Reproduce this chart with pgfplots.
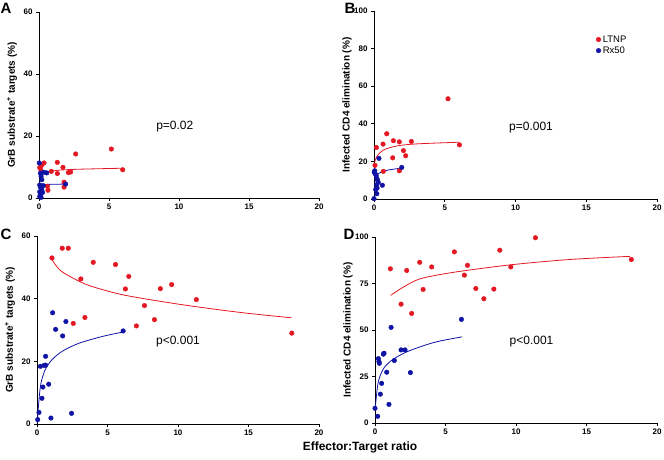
\documentclass[border=0pt]{standalone}
\usepackage{pgfplots}
\pgfplotsset{compat=1.18}
\usepackage{fontspec}
\setmainfont{Liberation Sans}
\definecolor{ltnp}{RGB}{228,24,34}
\definecolor{rx}{RGB}{16,20,165}
\pgfplotsset{
  gp/.style={
    scale only axis,
    anchor=south west,
    axis x line*=bottom,
    axis y line*=left,
    axis line style={-, line width=0.9pt},
    tick style={line width=0.8pt, black},
    tick align=outside,
    major tick length=3pt,
    xmin=0, xmax=20, xtick={0,5,10,15,20},
    enlargelimits=false,
    clip=false,
    /pgf/number format/assume math mode=true,
    ticklabel style={font=\fontsize{8}{9}\selectfont\bfseries},
    xticklabel style={yshift=1pt},
    ylabel style={at={([xshift=-27pt]axis description cs:0,0.5)}, anchor=center, font=\fontsize{10}{12}\selectfont\bfseries},
  },
  ptsr/.style={only marks, mark=*, mark size=2.3pt, color=ltnp},
  ptsb/.style={only marks, mark=*, mark size=2.3pt, color=rx},
  fitr/.style={no marks, smooth, line width=0.8pt, color=ltnp},
  fitb/.style={no marks, smooth, line width=0.8pt, color=rx},
}
\begin{document}
\begin{tikzpicture}
\useasboundingbox (0,0) rectangle (664pt,460pt);
% ---------------- A
\begin{axis}[gp, at={(39pt,262pt)}, width=280pt, height=186pt,
  ymin=0, ymax=60, ytick={0,20,40,60},
  ylabel={GrB substrate\textsuperscript{+} targets (\%)}]
\addplot[ptsr] coordinates {(5.17,15.8)(2.62,14.2)(1.31,11.5)(0.36,11.3)(1.71,9.9)(0.88,8.6)(1.31,7.9)(2.10,8.2)(2.26,8.4)(5.98,9.1)(0.12,9.3)(0.18,10.5)(0.05,9.8)(0.60,3.8)(0.64,2.5)(1.79,5.1)(1.79,3.5)};
\addplot[ptsb] coordinates {(0.02,11.3)(0.1,8.0)(0.35,8.3)(0.55,8.1)(0.15,7.0)(0.2,5.9)(0.05,4.2)(0.1,3.5)(0.2,2.8)(0.25,1.8)(0.1,1.2)(0.05,0.5)(0.15,0.2)(1.9,4.5)(0.3,4.0)(0.05,2.0)};
\addplot[fitr] coordinates {(0.05,7.0)(0.2,8.0)(0.6,8.5)(1.5,9.0)(3,9.3)(5.95,9.6)};
\addplot[fitb] coordinates {(0.05,4.0)(0.2,4.3)(0.8,4.4)(1.9,4.5)};
\node[font=\fontsize{12}{14}\selectfont] at (axis cs:9.7,23) {p=0.02};
\end{axis}
% ---------------- B
\begin{axis}[gp, at={(374pt,261pt)}, width=283pt, height=188pt,
  ymin=0, ymax=100, ytick={0,20,40,60,80,100},
  ylabel={Infected CD4 elimination (\%)},
  legend cell align=left,
  legend image code/.code={\draw[mark repeat=2,mark phase=2,#1] plot coordinates {(0cm,0cm) (0.1cm,0cm) (0.52cm,0cm)};},
  legend style={draw=none, fill=none, at={(axis description cs:0.774,0.892)}, anchor=north west, font=\fontsize{9.5}{11}\selectfont, row sep=-1pt}]
\addplot[ptsr] coordinates {(5.23,53.3)(0.90,34.7)(1.37,31.0)(0.64,29.2)(1.79,30.4)(2.64,30.6)(0.17,27.4)(6.04,28.8)(2.08,25.7)(2.24,23.0)(1.32,21.9)(0.66,14.7)(1.79,15.0)(0.07,17.9)};
\addlegendentry{LTNP}
\addplot[ptsb] coordinates {(0.35,21.6)(1.96,16.8)(0.05,15.0)(0.02,14.2)(0.08,13.5)(0.15,12.5)(0.2,11.0)(0.25,10.0)(0.3,8.8)(0.18,7.5)(0.59,7.3)(0.22,5.8)(0.12,5.0)(0.2,2.8)(0.0,0.2)};
\addlegendentry{Rx50}
\addplot[fitr, forget plot] coordinates {(0.05,19.5)(0.19,22.5)(0.66,26)(1.6,28.2)(3,29.3)(6,30.2)};
\addplot[fitb, forget plot] coordinates {(0.12,11.5)(0.25,13)(0.5,14.3)(1,15.4)(1.9,16.4)};
\node[font=\fontsize{12}{14}\selectfont] at (axis cs:11.1,38) {p=0.001};
\end{axis}
% ---------------- C
\begin{axis}[gp, at={(37pt,36pt)}, width=282pt, height=188pt,
  ymin=0, ymax=60, ytick={0,20,40,60},
  ylabel={GrB substrate\textsuperscript{+} targets (\%)}]
\addplot[ptsr] coordinates {(1.06,53.0)(1.79,56.1)(2.22,56.1)(3.99,51.6)(5.57,50.9)(6.51,47.1)(3.11,46.3)(6.27,43.1)(8.75,43.2)(9.55,44.5)(11.3,39.7)(7.62,37.8)(8.33,33.3)(7.05,31.3)(3.40,34.0)(2.57,32.1)(18.07,29.0)};
\addplot[ptsb] coordinates {(1.11,35.5)(1.32,30.2)(2.05,32.7)(1.82,28.1)(6.11,29.7)(0.61,21.6)(0.24,18.4)(0.5,18.7)(0.61,18.8)(0.42,11.8)(0.83,12.7)(0.35,8.2)(0.14,3.7)(0.05,1.4)(0.99,1.9)(2.45,3.4)};
\addplot[fitr] coordinates {(1.04,52.6)(1.63,49.1)(2.58,46.5)(3.76,44.1)(6.12,41.2)(9.67,38.5)(12.5,36.7)(15,35.3)(18.05,33.9)};
\addplot[fitb] coordinates {(0.02,0.3)(0.05,2.3)(0.14,7.7)(0.28,13)(0.57,17.2)(1.04,20.4)(1.75,23.1)(2.93,25.7)(4.6,27.9)(6.05,29.3)};
\node[font=\fontsize{12}{14}\selectfont] at (axis cs:10.0,26.4) {p<0.001};
\end{axis}
% ---------------- D
\begin{axis}[gp, at={(375pt,37pt)}, width=282pt, height=186pt,
  ymin=0, ymax=100, ytick={0,25,50,75,100},
  ylabel={Infected CD4 elimination (\%)}]
\addplot[ptsr] coordinates {(11.38,99.6)(8.85,92.9)(5.63,92.0)(3.17,86.4)(4.02,83.9)(6.56,84.8)(1.09,82.9)(2.25,82.0)(9.63,83.9)(6.34,79.5)(18.18,87.9)(3.41,71.8)(7.15,72.3)(8.43,72.0)(7.72,66.8)(1.85,63.9)(2.60,58.9)};
\addplot[ptsb] coordinates {(6.13,55.7)(1.14,51.4)(1.85,39.3)(2.13,39.3)(1.37,33.6)(0.0,7.9)(0.19,3.6)(0.83,27.3)(0.99,10.0)(0.38,15.5)(0.47,21.3)(0.24,34.6)(0.31,32.1)(0.28,33.0)(0.59,37.0)(0.64,37.5)(2.51,27.1)};
\addplot[fitr] coordinates {(1.11,68.6)(2.0,73)(3.19,77.5)(5.56,81)(9.57,85)(13.8,87.9)(18.1,89.6)};
\addplot[fitb] coordinates {(0.02,7.9)(0.12,15.9)(0.26,23)(0.61,29.3)(1.2,33.8)(2.15,37.9)(3.33,41.3)(4.5,43.9)(6.17,46.3)};
\node[font=\fontsize{12}{14}\selectfont] at (axis cs:11.1,44) {p<0.001};
\end{axis}
% panel letters and common label
\node[font=\fontsize{15}{17}\selectfont\bfseries] at (6pt,452pt) {A};
\node[font=\fontsize{15}{17}\selectfont\bfseries] at (350pt,452pt) {B};
\node[font=\fontsize{15}{17}\selectfont\bfseries] at (6pt,226pt) {C};
\node[font=\fontsize{15}{17}\selectfont\bfseries] at (349pt,226pt) {D};
\node[font=\fontsize{12}{14}\selectfont\bfseries] at (360pt,13pt) {Effector:Target ratio};
\end{tikzpicture}
\end{document}
